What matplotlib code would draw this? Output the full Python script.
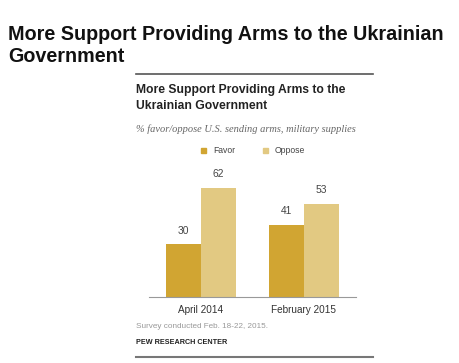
import matplotlib
matplotlib.use("Agg")
import matplotlib.pyplot as plt
from matplotlib.lines import Line2D
from matplotlib.patches import Rectangle

categories = ["April 2014", "February 2015"]
series_names = ["Favor", "Oppose"]
favor = [30, 41]
oppose = [62, 53]

W, H = 460, 363
fig = plt.figure(figsize=(W / 100, H / 100), dpi=100)
fig.patch.set_facecolor("white")

def fx(px):
    return px / W

def fy(py):
    return 1 - py / H

FAVOR_C = "#D1A532"
OPPOSE_C = "#E2C982"

# Main heading
fig.text(fx(8), fy(35), "More Support Providing Arms to the Ukrainian",
         fontsize=14.2, fontweight="bold", family="Liberation Sans", color="#111111", va="center")
fig.text(fx(8), fy(56), "Government",
         fontsize=14.2, fontweight="bold", family="Liberation Sans", color="#111111", va="center")

# rules
fig.add_artist(Line2D([fx(136), fx(373)], [fy(74), fy(74)], color="#555555", lw=1.2))
fig.add_artist(Line2D([fx(136), fx(373)], [fy(357), fy(357)], color="#777777", lw=1.5))

# chart title
fig.text(fx(136), fy(90), "More Support Providing Arms to the",
         fontsize=8.75, fontweight="bold", family="Liberation Sans", color="#222222", va="center")
fig.text(fx(136), fy(106), "Ukrainian Government",
         fontsize=8.75, fontweight="bold", family="Liberation Sans", color="#222222", va="center")
fig.text(fx(136), fy(129), "% favor/oppose U.S. sending arms, military supplies",
         fontsize=7.45, style="italic", family="Liberation Serif", color="#666666", va="center")

# legend
for name, col, x0 in [(series_names[0], FAVOR_C, 205), (series_names[1], OPPOSE_C, 267)]:
    fig.add_artist(Rectangle((fx(x0 - 4), fy(153)), 5 / W, 5 / H, color=col,
                             transform=fig.transFigure))
    fig.text(fx(x0 + 8), fy(150.5), name, fontsize=6.2, family="Liberation Sans",
             color="#444444", va="center")

# axes
ax = fig.add_axes([fx(149), fy(297), (356 - 149) / W, (297 - 170) / H])
x = list(range(len(categories)))
w = 0.34
b1 = ax.bar([i - w / 2 for i in x], favor, width=w, color=FAVOR_C)
b2 = ax.bar([i + w / 2 for i in x], oppose, width=w, color=OPPOSE_C)
for bars, vals in [(b1, favor), (b2, oppose)]:
    for rect, v in zip(bars, vals):
        ax.annotate(str(v), (rect.get_x() + rect.get_width() / 2, v),
                    xytext=(0, 6), textcoords="offset points", ha="center", va="bottom",
                    fontsize=7.4, family="Liberation Sans", color="#444444")
ax.set_xlim(-0.505, 1.505)
ax.set_ylim(0, 72)
ax.set_xticks(x)
ax.set_xticklabels(categories, fontsize=7.2, family="Liberation Sans", color="#333333")
ax.tick_params(axis="x", length=0, pad=6)
ax.set_yticks([])
for s in ["top", "right", "left"]:
    ax.spines[s].set_visible(False)
ax.spines["bottom"].set_color("#999999")
ax.spines["bottom"].set_linewidth(0.8)

# notes
fig.text(fx(136), fy(327), "Survey conducted Feb. 18-22, 2015.",
         fontsize=5.9, family="Liberation Sans", color="#999999", va="center")
fig.text(fx(136), fy(343), "PEW RESEARCH CENTER",
         fontsize=5.2, fontweight="bold", family="Liberation Sans", color="#222222", va="center")

fig.savefig("out.png", dpi=100, facecolor="white")
